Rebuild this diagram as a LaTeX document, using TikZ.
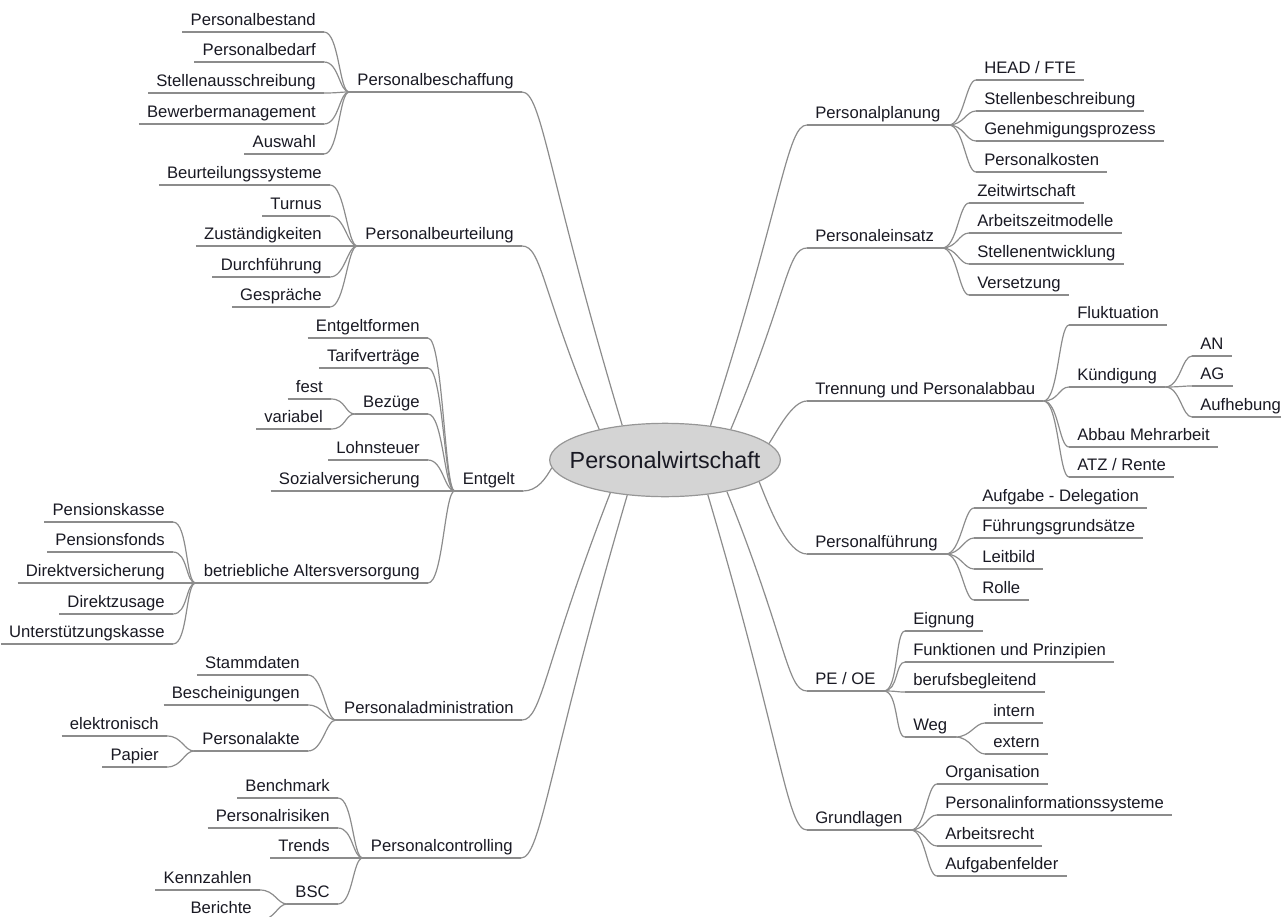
\documentclass[tikz,border=0pt]{standalone}
\usepackage{fontspec}
\setmainfont{Liberation Sans}
\usetikzlibrary{calc}
\usetikzlibrary{shapes.geometric}
\definecolor{linegray}{RGB}{140,140,140}
\definecolor{hubfill}{RGB}{212,212,212}
\definecolor{hubdraw}{RGB}{150,150,150}
\definecolor{textdark}{RGB}{25,25,35}
\newcommand{\lnode}[4]{\node(#1)[topic,anchor=south east] at (#2,#3) {#4}; \draw[twig] (#1.south west) -- (#1.south east)}
\newcommand{\rnode}[4]{\node(#1)[topic,anchor=south west] at (#2,#3) {#4}; \draw[twig] (#1.south west) -- (#1.south east)}
\newcommand{\twig}[2]{\draw[twig] (#1.south east) .. controls +(15,0) and +(-10,0) .. (#2.south west)}
\newcommand{\lbranch}[2]{\draw[twig] (#1.south east) .. controls +(20,0) and ($(#1.south east)!0.25!(hub.#2)$) .. (hub.#2)}
\newcommand{\rbranch}[2]{\draw[twig] (hub.#2) .. controls ($(#1.south west)!0.25!(hub.#2)$) and +(-20,0) .. (#1.south west)}

\begin{document}
\begin{tikzpicture}[
        x=0.75pt, y=-0.75pt,
        topic/.style={font=\fontsize{12.5}{15}\selectfont, text=textdark,
                      inner xsep=6pt, inner ysep=1.5pt, text height=9.5pt, text depth=3pt},
        twig/.style={draw=linegray, line width=0.9pt},
        hubnode/.style={ellipse, draw=hubdraw, fill=hubfill, line width=0.9pt,
                        minimum width=173pt, minimum height=55pt, inner sep=0pt,
                        font=\fontsize{17.5}{20}\selectfont, text=textdark}
      ]
      \useasboundingbox (0,0) rectangle (1281,917);

      % The centre of the map
      \node (hub) [hubnode] at (665,460) {\makebox[0pt]{Personalwirtschaft}};

      % Left side, top: Personalbeschaffung
      \lnode{besch}{522}{92}{Personalbeschaffung};
      \lnode{besch1}{324}{32}{Personalbestand};
      \lnode{besch2}{324}{62}{Personalbedarf};
      \lnode{besch3}{324}{93}{Stellenausschreibung};
      \lnode{besch4}{324}{124}{Bewerbermanagement};
      \lnode{besch5}{324}{154}{Auswahl};
      \foreach \n in {1,...,5} \twig{besch\n}{besch};

      % Personalbeurteilung
      \lnode{beurt}{522}{246}{Personalbeurteilung};
      \lnode{beurt1}{330}{185}{Beurteilungssysteme};
      \lnode{beurt2}{330}{216}{Turnus};
      \lnode{beurt3}{330}{246}{Zuständigkeiten};
      \lnode{beurt4}{330}{277}{Durchführung};
      \lnode{beurt5}{330}{307}{Gespräche};
      \foreach \n in {1,...,5} \twig{beurt\n}{beurt};

      % Entgelt, with Bezuege and the Altersversorgung below it
      \lnode{entg}{523}{491}{Entgelt};
      \lnode{entg1}{428}{338}{Entgeltformen};
      \lnode{entg2}{428}{368}{Tarifverträge};
      \lnode{bez}{428}{414}{Bezüge};
      \lnode{entg3}{428}{460}{Lohnsteuer};
      \lnode{entg4}{428}{491}{Sozialversicherung};
      \lnode{bav}{428}{583}{betriebliche Altersversorgung};
      \foreach \n in {entg1,entg2,bez,entg3,entg4,bav} \twig{\n}{entg};
      \lnode{bez1}{331}{399}{fest};
      \lnode{bez2}{331}{429}{variabel};
      \foreach \n in {1,2} \twig{bez\n}{bez};
      \lnode{bav1}{173}{522}{Pensionskasse};
      \lnode{bav2}{173}{552}{Pensionsfonds};
      \lnode{bav3}{173}{583}{Direktversicherung};
      \lnode{bav4}{173}{614}{Direktzusage};
      \lnode{bav5}{173}{644}{Unterstützungskasse};
      \foreach \n in {1,...,5} \twig{bav\n}{bav};

      % Personaladministration
      \lnode{adm}{522}{720}{Personaladministration};
      \lnode{adm1}{308}{675}{Stammdaten};
      \lnode{adm2}{308}{705}{Bescheinigungen};
      \lnode{akte}{308}{751}{Personalakte};
      \foreach \n in {adm1,adm2,akte} \twig{\n}{adm};
      \lnode{akte1}{167}{736}{elektronisch};
      \lnode{akte2}{167}{767}{Papier};
      \foreach \n in {1,2} \twig{akte\n}{akte};

      % Personalcontrolling
      \lnode{contr}{521}{858}{Personalcontrolling};
      \lnode{contr1}{338}{798}{Benchmark};
      \lnode{contr2}{338}{828}{Personalrisiken};
      \lnode{contr3}{338}{858}{Trends};
      \lnode{bsc}{338}{904}{BSC};
      \foreach \n in {contr1,contr2,contr3,bsc} \twig{\n}{contr};
      \lnode{bsc1}{260}{890}{Kennzahlen};
      \lnode{bsc2}{260}{920}{Berichte};
      \foreach \n in {1,2} \twig{bsc\n}{bsc};

      % Right side, top: Personalplanung
      \rnode{plan}{807}{125}{Personalplanung};
      \rnode{plan1}{976}{80}{HEAD / FTE};
      \rnode{plan2}{976}{111}{Stellenbeschreibung};
      \rnode{plan3}{976}{141}{Genehmigungsprozess};
      \rnode{plan4}{976}{172}{Personalkosten};
      \foreach \n in {1,...,4} \twig{plan}{plan\n};

      % Personaleinsatz
      \rnode{eins}{807}{248}{Personaleinsatz};
      \rnode{eins1}{969}{203}{Zeitwirtschaft};
      \rnode{eins2}{969}{233}{Arbeitszeitmodelle};
      \rnode{eins3}{969}{264}{Stellenentwicklung};
      \rnode{eins4}{969}{295}{Versetzung};
      \foreach \n in {1,...,4} \twig{eins}{eins\n};

      % Trennung und Personalabbau, with Kuendigung
      \rnode{trenn}{807}{401}{Trennung und Personalabbau};
      \rnode{trenn1}{1069}{325}{Fluktuation};
      \rnode{kuend}{1069}{387}{Kündigung};
      \rnode{trenn2}{1069}{447}{Abbau Mehrarbeit};
      \rnode{trenn3}{1069}{477}{ATZ / Rente};
      \foreach \n in {trenn1,kuend,trenn2,trenn3} \twig{trenn}{\n};
      \rnode{kuend1}{1192}{356}{AN};
      \rnode{kuend2}{1192}{386}{AG};
      \rnode{kuend3}{1192}{417}{Aufhebung};
      \foreach \n in {1,2,3} \twig{kuend}{kuend\n};

      % Personalfuehrung
      \rnode{fuehr}{807}{554}{Personalführung};
      \rnode{fuehr1}{974}{508}{Aufgabe - Delegation};
      \rnode{fuehr2}{974}{538}{Führungsgrundsätze};
      \rnode{fuehr3}{974}{569}{Leitbild};
      \rnode{fuehr4}{974}{600}{Rolle};
      \foreach \n in {1,...,4} \twig{fuehr}{fuehr\n};

      % PE / OE, with Weg
      \rnode{peoe}{807}{691}{PE / OE};
      \rnode{peoe1}{905}{631}{Eignung};
      \rnode{peoe2}{905}{662}{Funktionen und Prinzipien};
      \rnode{peoe3}{905}{692}{berufsbegleitend};
      \rnode{weg}{905}{737}{Weg};
      \foreach \n in {peoe1,peoe2,peoe3,weg} \twig{peoe}{\n};
      \rnode{weg1}{985}{723}{intern};
      \rnode{weg2}{985}{754}{extern};
      \foreach \n in {1,2} \twig{weg}{weg\n};

      % Grundlagen
      \rnode{grund}{807}{830}{Grundlagen};
      \rnode{grund1}{937}{784}{Organisation};
      \rnode{grund2}{937}{815}{Personalinformationssysteme};
      \rnode{grund3}{937}{846}{Arbeitsrecht};
      \rnode{grund4}{937}{876}{Aufgabenfelder};
      \foreach \n in {1,...,4} \twig{grund}{grund\n};

      % Main branches into the centre
      \lbranch{besch}{141};
      \lbranch{beurt}{155};
      \draw[twig] (entg.south east) .. controls +(15,0) and +(-6,10) .. (hub.184);
      \lbranch{adm}{211};
      \lbranch{contr}{223};
      \rbranch{plan}{37};
      \rbranch{eins}{25};
      \draw[twig] (hub.9) .. controls +(8,-12) and +(-15,0) .. (trenn.south west);
      \draw[twig] (hub.347) .. controls +(10,25) and +(-20,0) .. (fuehr.south west);
      \rbranch{peoe}{333};
      \rbranch{grund}{321};
    \end{tikzpicture}
\end{document}
